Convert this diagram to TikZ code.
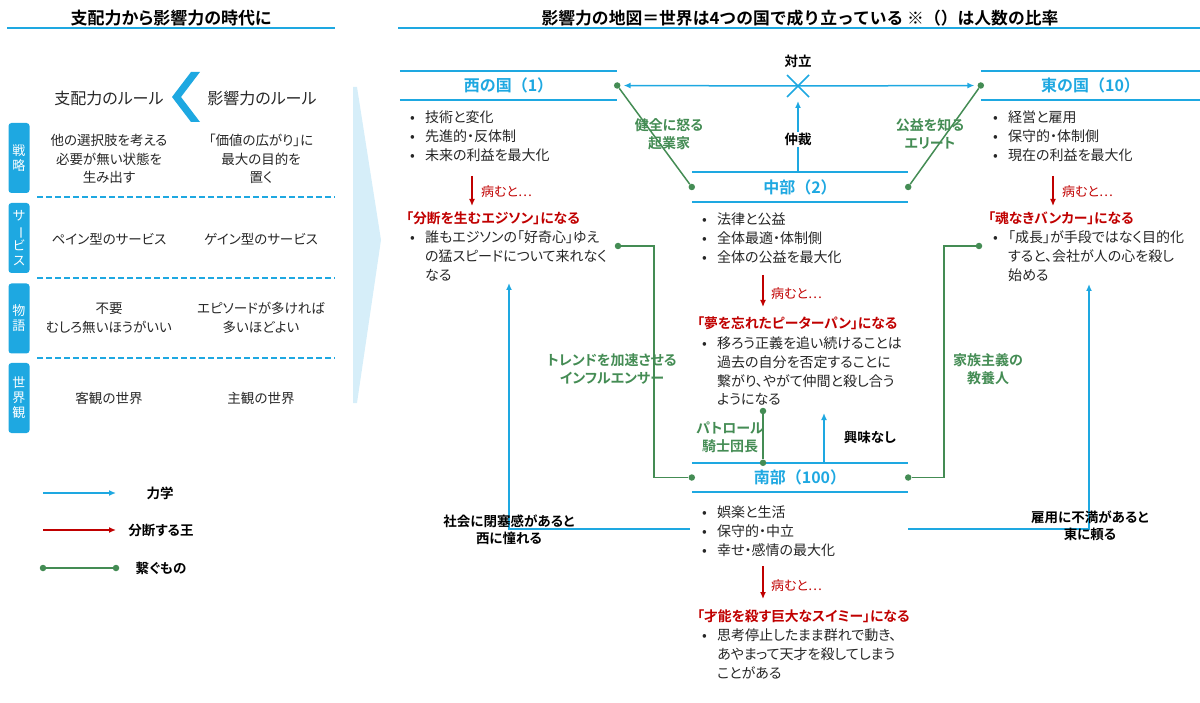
\documentclass[tikz,border=0pt]{standalone}
\usepackage{fontspec}
\setmainfont{Noto Sans CJK JP}[RawFeature=+palt,BoldFont={* Bold}]
\newfontfamily\fullw{Noto Sans CJK JP}[BoldFont={* Bold}]
\usepackage{graphicx}
\usepackage{xcolor}
\usetikzlibrary{arrows.meta}
\definecolor{kblue}{RGB}{30,168,225}
\definecolor{kgreen}{RGB}{68,140,84}
\definecolor{kred}{RGB}{192,0,0}
\definecolor{kpale}{RGB}{214,238,249}
\definecolor{ktext}{RGB}{38,38,38}
\newcommand\fsz[2]{\fontsize{#1}{#2}\selectfont}
\newcommand\bul{\makebox[15pt][l]{•}}
\newcommand\ind{\hspace*{15pt}}

\begin{document}
\begin{tikzpicture}[x=1pt,y=-1pt]
\tikzset{>={Latex[width=6pt,length=7pt]}}
\tikzstyle{bl}=[draw=kblue,line width=1.5pt]
\tikzstyle{gline}=[draw=kgreen,line width=1.5pt]
\tikzstyle{redarr}=[draw=kred,line width=1.3pt,->]
\tikzstyle{gdot}=[circle,fill=kgreen,inner sep=0pt,minimum size=6.5pt]
\tikzstyle{country}=[minimum width=216pt,minimum height=29pt,inner sep=0pt,font=\fullw\fsz{16}{18}\bfseries,text=kblue]
% lists are placed at the baseline of their last line
\tikzstyle{blist}=[anchor=base west,inner sep=0pt,align=left,font=\fsz{14}{19},text=ktext]
\tikzstyle{sick}=[anchor=base west,inner sep=0pt,font=\fsz{13}{16},text=kred]
\tikzstyle{becomes}=[anchor=base west,inner sep=0pt,font=\fsz{13.8}{16}\bfseries,text=kred]
\tikzstyle{glabel}=[align=center,inner sep=0pt,font=\fsz{14}{18}\bfseries,text=kgreen]
\tikzstyle{klabel}=[align=center,inner sep=0pt,font=\fsz{13.5}{17}\bfseries,text=black]
\tikzstyle{tab}=[fill=kblue,rounded corners=3pt,minimum width=21pt,minimum height=70pt,inner sep=0pt,text=white,align=center,font=\fsz{13}{15}]
\tikzstyle{cell}=[align=center,inner sep=0pt,font=\fsz{13.5}{18.5},text=ktext]
\tikzstyle{rowline}=[draw=kblue,line width=1.5pt,dash pattern=on 6pt off 3pt]

\useasboundingbox (0,0) rectangle (1200,703);

% left side
\node[font=\fsz{17}{20}\bfseries] (ltitle) at (171,18) {支配力から影響力の時代に};
\draw[bl] (7,28) -- (335,28);

\node[font=\fsz{16}{18},text=ktext] (rule1) at (109,98) {支配力のルール};
\node[font=\fsz{16}{18},text=ktext] (rule2) at (262,98) {影響力のルール};
\fill[kblue] (191,72) -- (200,72) -- (181,97) -- (200,122) -- (191,122) -- (172,97) -- cycle;

\node[tab] (t1) at (19,158) {戦\\略};
\node[tab] (t2) at (19,238) {サ\\\rotatebox[origin=c]{-90}{ー}\\ビ\\ス};
\node[tab] (t3) at (19,318.5) {物\\語};
\node[tab] (t4) at (19,398) {世\\界\\観};

\node[cell] (r1a) at (109,159) {他の選択肢を考える\\必要が無い状態を\\生み出す};
\node[cell] (r1b) at (261,159) {「価値の広がり」に\\最大の目的を\\置く};
\node[cell] (r2a) at (109,239) {ペイン型のサービス};
\node[cell] (r2b) at (261,239) {ゲイン型のサービス};
\node[cell] (r3a) at (109,318) {不要\\むしろ無いほうがいい};
\node[cell] (r3b) at (261,318) {エピソードが多ければ\\多いほどよい};
\node[cell] (r4a) at (109,398) {客観の世界};
\node[cell] (r4b) at (261,398) {主観の世界};

\draw[rowline] (37,197) -- (335,197);
\draw[rowline] (37,278) -- (335,278);
\draw[rowline] (37,358) -- (335,358);

\fill[kpale] (353,87) -- (357,87) -- (381,240) -- (357,403) -- (353,403) -- cycle;

% legend
\coordinate (lg1a) at (43,493); \coordinate (lg1b) at (116,493);
\coordinate (lg2a) at (43,530); \coordinate (lg2b) at (116,530);
\node[gdot] (lg3a) at (43,568) {};
\node[gdot] (lg3b) at (116,568) {};
\draw[bl,->] (lg1a) -- (lg1b);
\draw[redarr] (lg2a) -- (lg2b);
\draw[gline] (lg3a) -- (lg3b);
\node[klabel] (lgt1) at (160,493) {力学};
\node[klabel] (lgt2) at (161,530) {分断する王};
\node[klabel] (lgt3) at (161,568) {繋ぐもの};

% right side
\node[font=\fullw\fsz{16.8}{20}\bfseries] (rtitle) at (800,18) {影響力の地図＝世界は4つの国で成り立っている ※（）は人数の比率};
\draw[bl] (398,28) -- (1200,28);

\node[country,minimum width=217pt] (west) at (508.5,85.5) {西の国（1）};
\node[country,minimum width=219pt] (east) at (1090.5,85.5) {東の国（10）};
\node[country,minimum height=30pt] (mid) at (800,187) {中部（2）};
\node[country] (south) at (800,477.5) {南部（100）};
\draw[bl] (west.north west) -- (west.north east) (west.south west) -- (west.south east);
\draw[bl] (east.north west) -- (east.north east) (east.south west) -- (east.south east);
\draw[bl] (mid.north west) -- (mid.north east) (mid.south west) -- (mid.south east);
\draw[bl] (south.north west) -- (south.north east) (south.south west) -- (south.south east);

% west
\node[blist] (wlist) at (410,161) {\bul 技術と変化\\\bul 先進的・反体制\\\bul 未来の利益を最大化};
\coordinate (wa1) at (472,176); \coordinate (wa2) at (472,206);
\draw[redarr] (wa1) -- (wa2);
\node[sick] (wsick) at (481,197) {病むと…};
\node[becomes] (wking) at (406,224) {「分断を生むエジソン」になる};
\node[blist] (wdesc) at (410,281) {\bul 誰もエジソンの「好奇心」ゆえ\\\ind の猛スピードについて来れなく\\\ind なる};

% east
\node[blist] (elist) at (993,161) {\bul 経営と雇用\\\bul 保守的・体制側\\\bul 現在の利益を最大化};
\coordinate (ea1) at (1053,176); \coordinate (ea2) at (1053,206);
\draw[redarr] (ea1) -- (ea2);
\node[sick] (esick) at (1062,197) {病むと…};
\node[becomes] (eking) at (988,224) {「魂なきバンカー」になる};
\node[blist] (edesc) at (993,281) {\bul 「成長」が手段ではなく目的化\\\ind すると、会社が人の心を殺し\\\ind 始める};

% middle
\node[blist] (mlist) at (702,263) {\bul 法律と公益\\\bul 全体最適・体制側\\\bul 全体の公益を最大化};
\coordinate (ma1) at (763,275); \coordinate (ma2) at (763,307);
\draw[redarr] (ma1) -- (ma2);
\node[sick] (msick) at (771,299) {病むと…};
\node[becomes] (mking) at (697,329) {「夢を忘れたピーターパン」になる};
\node[blist] (mdesc) at (702,405) {\bul 移ろう正義を追い続けることは\\\ind 過去の自分を否定することに\\\ind 繋がり、やがて仲間と殺し合う\\\ind ようになる};

% south
\node[blist] (slist) at (702,555) {\bul 娯楽と生活\\\bul 保守的・中立\\\bul 幸せ・感情の最大化};
\coordinate (sa1) at (763,566); \coordinate (sa2) at (763,599);
\draw[redarr] (sa1) -- (sa2);
\node[sick] (ssick) at (771,590) {病むと…};
\node[becomes] (sking) at (697,621) {「才能を殺す巨大なスイミー」になる};
\node[blist] (sdesc) at (702,678) {\bul 思考停止したまま群れで動き、\\\ind あやまって天才を殺してしまう\\\ind ことがある};

% conflict and mediation
\coordinate (clash) at (798,86);
\node[gdot] (wdot) at (west.east) {};
\node[gdot] (edot) at (east.west) {};
\draw[bl,->,shorten >=3pt] (clash) -- (wdot);
\draw[bl,->,shorten >=3pt] (clash) -- (edot);
\draw[bl] (787,75) -- (809,97) (787,97) -- (809,75);
\node[klabel] (tairitsu) at (798,61) {対立};
\draw[bl,->,shorten >=15pt] (mid.north -| clash) -- (clash)
  node[pos=0.38,fill=white,inner sep=1pt,font=\fsz{13.5}{17}\bfseries] (chusai) {仲裁};

% connectors
\node[gdot] (mldot) at (mid.west) {};
\node[gdot] (mrdot) at (mid.east) {};
\draw[gline] (wdot) -- (mldot);
\draw[gline] (edot) -- (mrdot);
\node[glabel] (kigyo) at (669,134) {健全に怒る\\起業家};
\node[glabel] (elite) at (930,134) {公益を知る\\エリート};

\node[gdot] (wddot) at (618,246) {};
\node[gdot] (eddot) at (979,246) {};
\node[gdot] (sldot) at (south.west) {};
\node[gdot] (srdot) at (south.east) {};
\coordinate (wbend) at (654,246);
\coordinate (ebend) at (944,246);
\draw[gline] (wddot) -- (wbend) |- (sldot);
\draw[gline] (eddot) -- (ebend) |- (srdot);
\node[glabel] (influ) at (612,369) {トレンドを加速させる\\インフルエンサー};
\node[glabel] (kyoyo) at (988,369) {家族主義の\\教養人};

\node[gdot] (ptop) at (763,411) {};
\node[gdot] (pbot) at (south.north -| ptop) {};
\draw[gline] (ptop) -- (pbot);
\node[glabel] (patrol) at (730,437) {パトロール\\騎士団長};

\coordinate (kyomi) at (824,413);
\draw[bl,->] (south.north -| kyomi) -- (kyomi);
\node[klabel] (nointerest) at (870,437) {興味なし};

\coordinate (sw) at (690,529); \coordinate (wup) at (509,283);
\coordinate (se) at (908,529); \coordinate (eup) at (1089,284);
\draw[bl,->] (sw) -| (wup);
\draw[bl,->] (se) -| (eup);
\node[klabel] (heisoku) at (509,530) {社会に閉塞感があると\\西に憧れる};
\node[klabel] (fuman) at (1090,526) {雇用に不満があると\\東に頼る};
\end{tikzpicture}
\end{document}
